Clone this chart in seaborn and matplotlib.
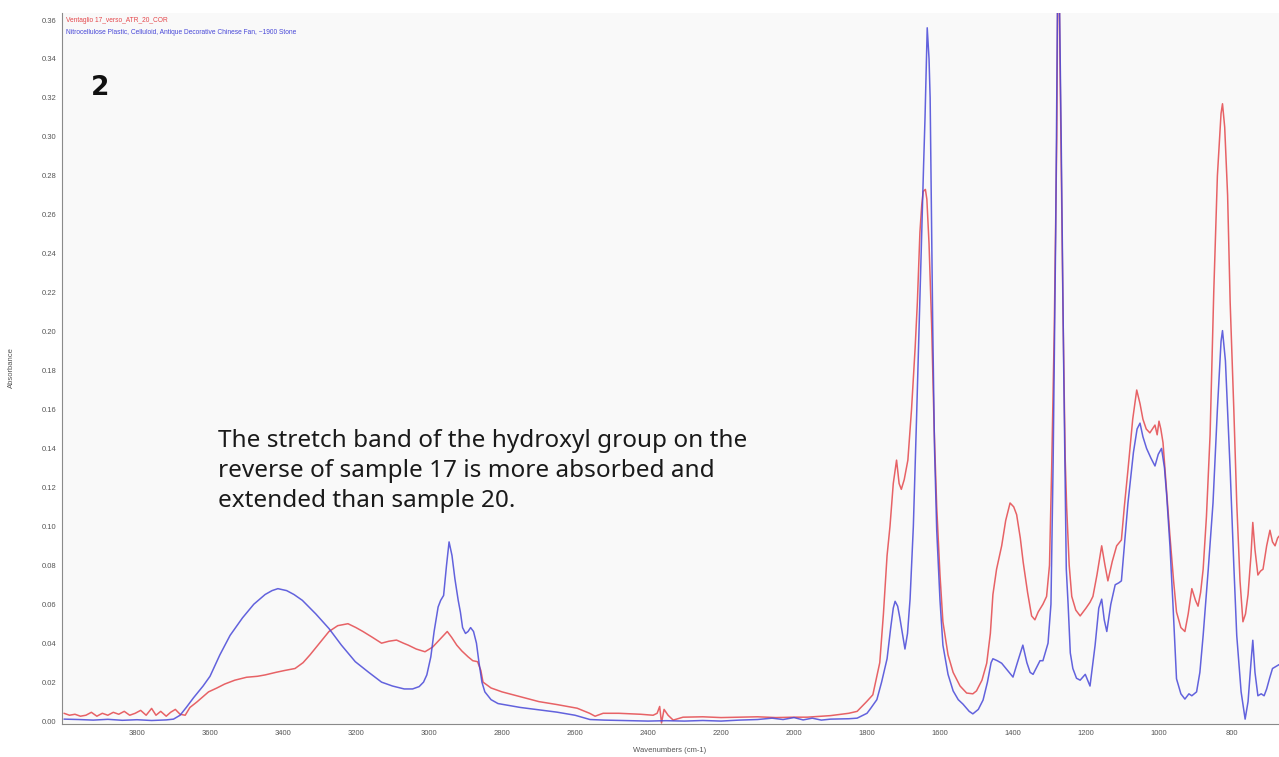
import pandas as pd
import matplotlib
matplotlib.use("Agg")
import matplotlib.pyplot as plt
import seaborn as sns
from matplotlib.ticker import MultipleLocator, FormatStrFormatter

# spectrum of sample 17 (reverse), red
red_wn = [4000, 3985, 3970, 3955, 3940, 3925, 3910, 3895, 3880, 3865, 3850, 3835, 3820, 3805,
          3790, 3775, 3760, 3748, 3735, 3720, 3708, 3695, 3682, 3668, 3655, 3636, 3604, 3581,
          3560, 3532, 3500, 3470, 3449, 3420, 3395, 3367, 3345, 3326, 3300, 3274, 3250, 3222,
          3200, 3181, 3155, 3130, 3110, 3089, 3070, 3057, 3035, 3011, 2990, 2975, 2960, 2950,
          2938, 2924, 2910, 2893, 2880, 2867, 2858, 2852, 2830, 2800, 2750, 2699, 2650, 2594,
          2560, 2545, 2523, 2480, 2420, 2386, 2375, 2368, 2363, 2356, 2345, 2331, 2304, 2250,
          2200, 2150, 2100, 2050, 2000, 1964, 1900, 1850, 1827, 1801, 1784, 1765, 1755, 1745,
          1737, 1728, 1719, 1712, 1706, 1698, 1688, 1678, 1668, 1662, 1655, 1650, 1646, 1640,
          1636, 1630, 1623, 1616, 1609, 1600, 1592, 1578, 1564, 1545, 1527, 1510, 1500, 1485,
          1472, 1462, 1455, 1445, 1431, 1420, 1408, 1398, 1390, 1380, 1372, 1360, 1349, 1340,
          1331, 1318, 1308, 1300, 1294, 1287, 1280, 1276, 1270, 1263, 1257, 1253, 1246, 1239,
          1228, 1216, 1200, 1189, 1181, 1170, 1157, 1148, 1140, 1128, 1116, 1103, 1095, 1085,
          1072, 1061, 1052, 1044, 1035, 1025, 1018, 1011, 1005, 1000, 995, 989, 980, 970,
          960, 952, 940, 929, 920, 910, 900, 893, 886, 879, 870, 860, 850, 840,
          830, 826, 820, 812, 805, 795, 787, 778, 770, 763, 756, 748, 743, 737,
          729, 722, 715, 705, 696, 689, 682, 675, 671]
red_abs = [0.004, 0.003, 0.0035, 0.0025, 0.003, 0.0045, 0.0025, 0.004, 0.003, 0.0045, 0.0035, 0.005, 0.003, 0.004,
           0.0055, 0.003, 0.0065, 0.003, 0.005, 0.0025, 0.0045, 0.006, 0.0035, 0.003, 0.007, 0.0098, 0.015, 0.017,
           0.019, 0.021, 0.0225, 0.023, 0.0237, 0.025, 0.026, 0.027, 0.030, 0.034, 0.040, 0.046, 0.049, 0.050,
           0.048, 0.046, 0.043, 0.040, 0.041, 0.0416, 0.040, 0.039, 0.037, 0.0356, 0.038, 0.041, 0.044, 0.046,
           0.043, 0.039, 0.036, 0.033, 0.031, 0.0305, 0.026, 0.020, 0.017, 0.015, 0.0125, 0.010, 0.0085, 0.0066,
           0.004, 0.0025, 0.004, 0.004, 0.0035, 0.003, 0.004, 0.0075, -0.001, 0.006, 0.003, 0.0005, 0.002, 0.0022,
           0.0018, 0.002, 0.0022, 0.0018, 0.002, 0.002, 0.0028, 0.004, 0.005, 0.010, 0.0135, 0.030, 0.055, 0.085,
           0.100, 0.122, 0.134, 0.122, 0.119, 0.124, 0.134, 0.160, 0.192, 0.215, 0.251, 0.265, 0.272, 0.273,
           0.268, 0.245, 0.204, 0.150, 0.110, 0.075, 0.051, 0.034, 0.025, 0.018, 0.0144, 0.0140, 0.0155, 0.021,
           0.0297, 0.045, 0.065, 0.078, 0.090, 0.103, 0.112, 0.110, 0.106, 0.094, 0.0815, 0.066, 0.054, 0.052,
           0.056, 0.060, 0.064, 0.080, 0.130, 0.200, 0.300, 0.420, 0.320, 0.210, 0.135, 0.110, 0.080, 0.064,
           0.057, 0.054, 0.058, 0.061, 0.064, 0.075, 0.090, 0.080, 0.072, 0.082, 0.090, 0.093, 0.110, 0.129,
           0.155, 0.170, 0.163, 0.155, 0.150, 0.148, 0.150, 0.152, 0.147, 0.154, 0.150, 0.143, 0.120, 0.095,
           0.072, 0.056, 0.048, 0.046, 0.055, 0.068, 0.062, 0.059, 0.066, 0.078, 0.105, 0.147, 0.220, 0.280,
           0.312, 0.317, 0.305, 0.270, 0.215, 0.160, 0.112, 0.072, 0.051, 0.055, 0.065, 0.085, 0.102, 0.088,
           0.075, 0.077, 0.078, 0.090, 0.098, 0.092, 0.090, 0.094, 0.095]

# reference nitrocellulose spectrum, blue
blue_wn = [4000, 3960, 3920, 3880, 3840, 3800, 3760, 3720, 3700, 3682, 3665, 3645, 3619, 3600,
           3573, 3545, 3511, 3480, 3449, 3430, 3414, 3390, 3370, 3347, 3310, 3274, 3240, 3202,
           3165, 3130, 3100, 3068, 3045, 3027, 3015, 3006, 2995, 2986, 2975, 2968, 2960, 2952,
           2945, 2937, 2929, 2920, 2914, 2908, 2900, 2893, 2886, 2878, 2870, 2863, 2855, 2847,
           2830, 2811, 2750, 2699, 2650, 2600, 2559, 2520, 2450, 2400, 2350, 2300, 2250, 2200,
           2150, 2100, 2060, 2030, 2000, 1975, 1950, 1925, 1900, 1850, 1827, 1800, 1790, 1773,
           1760, 1745, 1735, 1728, 1723, 1716, 1710, 1703, 1696, 1689, 1682, 1673, 1664, 1657,
           1650, 1645, 1641, 1635, 1630, 1627, 1620, 1615, 1609, 1600, 1592, 1578, 1564, 1550,
           1537, 1520, 1510, 1495, 1482, 1470, 1460, 1455, 1443, 1431, 1415, 1400, 1388, 1373,
           1362, 1353, 1345, 1326, 1318, 1304, 1296, 1290, 1283, 1276, 1268, 1261, 1254, 1249,
           1243, 1236, 1226, 1216, 1202, 1189, 1175, 1165, 1157, 1150, 1143, 1132, 1120, 1110,
           1103, 1095, 1085, 1070, 1060, 1052, 1044, 1034, 1022, 1011, 1002, 993, 985, 979,
           970, 962, 952, 940, 929, 918, 910, 897, 888, 879, 865, 852, 840, 830,
           826, 818, 805, 795, 787, 775, 764, 756, 748, 743, 737, 729, 720, 712,
           705, 697, 689, 680, 671]
blue_abs = [0.001, 0.0008, 0.0005, 0.0009, 0.0004, 0.0007, 0.0003, 0.0006, 0.001, 0.003, 0.007, 0.012, 0.018, 0.023,
            0.034, 0.044, 0.053, 0.060, 0.065, 0.067, 0.068, 0.067, 0.065, 0.062, 0.055, 0.0475, 0.039, 0.0305,
            0.025, 0.020, 0.018, 0.0165, 0.0165, 0.0177, 0.020, 0.0237, 0.033, 0.046, 0.0586, 0.062, 0.0645, 0.080,
            0.092, 0.085, 0.073, 0.062, 0.056, 0.048, 0.045, 0.046, 0.048, 0.046, 0.040, 0.030, 0.020, 0.015,
            0.011, 0.009, 0.007, 0.0058, 0.0046, 0.003, 0.0008, 0.0005, 0.0002, 0.0, 0.0002, 0.0, 0.0003, 0.0,
            0.0005, 0.0008, 0.0015, 0.0008, 0.0018, 0.0006, 0.0015, 0.0005, 0.001, 0.0012, 0.0015, 0.004, 0.0065, 0.011,
            0.020, 0.032, 0.048, 0.058, 0.0615, 0.059, 0.053, 0.045, 0.037, 0.045, 0.0626, 0.100, 0.157, 0.205,
            0.251, 0.285, 0.310, 0.356, 0.340, 0.320, 0.204, 0.140, 0.098, 0.062, 0.039, 0.024, 0.0155, 0.011,
            0.0087, 0.005, 0.0037, 0.006, 0.0108, 0.020, 0.030, 0.032, 0.031, 0.0297, 0.026, 0.0226, 0.030, 0.039,
            0.030, 0.025, 0.024, 0.031, 0.031, 0.040, 0.060, 0.133, 0.250, 0.420, 0.300, 0.180, 0.078, 0.060,
            0.035, 0.027, 0.022, 0.021, 0.024, 0.018, 0.039, 0.058, 0.0626, 0.052, 0.046, 0.060, 0.070, 0.071,
            0.072, 0.090, 0.112, 0.138, 0.150, 0.153, 0.146, 0.140, 0.135, 0.131, 0.137, 0.140, 0.130, 0.116,
            0.090, 0.061, 0.0217, 0.014, 0.0113, 0.014, 0.013, 0.015, 0.025, 0.044, 0.078, 0.112, 0.160, 0.195,
            0.2005, 0.185, 0.129, 0.080, 0.044, 0.015, 0.001, 0.010, 0.030, 0.0415, 0.025, 0.013, 0.014, 0.013,
            0.0165, 0.022, 0.027, 0.028, 0.029]

red_name = "Ventaglio 17_verso_ATR_20_COR"
blue_name = "Nitrocellulose Plastic, Celluloid, Antique Decorative Chinese Fan, ~1900 Stone"
panel_label = "2"
note = ("The stretch band of the hydroxyl group on the\n"
        "reverse of sample 17 is more absorbed and\n"
        "extended than sample 20.")
x_ticks = [3800, 3600, 3400, 3200, 3000, 2800, 2600, 2400, 2200, 2000, 1800, 1600, 1400, 1200, 1000, 800]
y_ticks = [0.00, 0.02, 0.04, 0.06, 0.08, 0.10, 0.12, 0.14, 0.16, 0.18, 0.20, 0.22, 0.24, 0.26, 0.28,
           0.30, 0.32, 0.34, 0.36]

RED = "#e4484c"
BLUE = "#4848d8"


def build_frame():
    red = pd.DataFrame({"wavenumber": red_wn, "absorbance": red_abs, "spectrum": red_name})
    blue = pd.DataFrame({"wavenumber": blue_wn, "absorbance": blue_abs, "spectrum": blue_name})
    return pd.concat([red, blue], ignore_index=True)


def plot_spectra(df, output_file):
    sns.set_style("white")
    plt.rcParams["font.family"] = ["Liberation Sans", "DejaVu Sans"]

    W, H = 1279, 757
    fig = plt.figure(figsize=(W / 100, H / 100), dpi=100)
    fig.patch.set_facecolor("white")
    ax = fig.add_axes([62 / W, 1 - 724 / H, 1 - 62 / W, (724 - 13) / H])
    ax.set_facecolor("#f9f9f9")

    sns.lineplot(
        data=df, x="wavenumber", y="absorbance", hue="spectrum",
        palette={red_name: RED, blue_name: BLUE},
        sort=False, estimator=None, legend=False, linewidth=1.1, alpha=0.85, ax=ax
    )

    ax.set_xlim(4005.5, 671.2)
    ax.set_ylim(-0.0015, 0.3636)
    ax.set_xticks(x_ticks)
    ax.set_yticks(y_ticks)
    ax.xaxis.set_minor_locator(MultipleLocator(50))
    ax.yaxis.set_minor_locator(MultipleLocator(0.004))
    ax.yaxis.set_major_formatter(FormatStrFormatter("%.2f"))
    ax.set_xlabel("")
    ax.set_ylabel("")

    for side in ("top", "right"):
        ax.spines[side].set_visible(False)
    for side in ("left", "bottom"):
        ax.spines[side].set_color("#8a8a8a")
        ax.spines[side].set_linewidth(0.8)

    ax.tick_params(which="major", labelsize=5.5, labelcolor="#555555", color="#8a8a8a",
                   length=4, width=0.7, direction="inout", pad=2)
    ax.tick_params(which="minor", color="#9a9a9a", length=2, width=0.5, direction="inout")

    fig.text(670 / W, 1 - 750 / H, "Wavenumbers (cm-1)", fontsize=5.5, color="#555555",
             ha="center", va="center")
    fig.text(11 / W, 1 - 368 / H, "Absorbance", fontsize=5.5, color="#555555",
             ha="center", va="center", rotation=90)

    # spectrum names in the top left corner
    fig.text(66 / W, 1 - 20 / H, red_name, fontsize=4.8, color=RED, ha="left", va="center")
    fig.text(66 / W, 1 - 33 / H, blue_name, fontsize=4.8, color=BLUE, ha="left", va="center")

    fig.text(100 / W, 1 - 88 / H, panel_label, fontsize=19, fontweight="bold", color="#111111",
             ha="center", va="center", family=["DejaVu Sans"])
    fig.text(218 / W, 1 - 429 / H, note, fontsize=17.5, color="#1a1a1a", ha="left", va="top",
             linespacing=1.33, family=["Noto Sans", "DejaVu Sans"])

    plt.savefig(output_file, dpi=100)
    print(f"Figure saved as {output_file}")


if __name__ == "__main__":
    df = build_frame()
    plot_spectra(df, "out.png")
